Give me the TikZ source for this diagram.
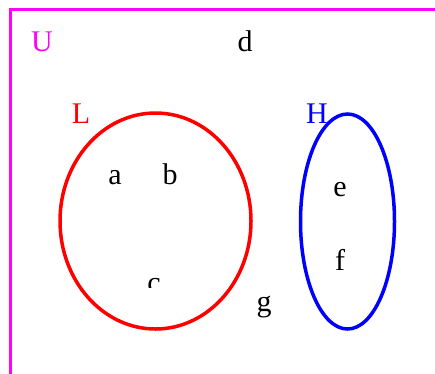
\documentclass[tikz,border=0pt]{standalone}
\usepackage{fontspec}
\setmainfont{Liberation Serif}
\usetikzlibrary{shapes.geometric}
\definecolor{umag}{RGB}{255,0,255}
\definecolor{lred}{RGB}{255,0,0}
\definecolor{hblue}{RGB}{0,0,255}
\begin{document}
\begin{tikzpicture}[x=1pt,y=-1pt,
  lbl/.style={font=\fontsize{30}{30}\selectfont, anchor=base, inner sep=0pt},
  setline/.style={line width=3.5pt, draw, ellipse, inner sep=0pt}]
\useasboundingbox (0,0) rectangle (435,373);
\clip (0,0) rectangle (435,373);
\draw[umag, line width=3pt] (10.5,700) -- (10.5,9.7) -- (700,9.7);
\node[setline, lred, minimum width=191pt, minimum height=216pt] (Lset) at (155.5,221) {};
\node[setline, hblue, minimum width=94pt, minimum height=215pt] (Hset) at (347.5,221.5) {};
\node[lbl, umag] (U) at (42,51) {U};
\node[lbl] (d) at (245,51) {d};
\node[lbl, lred] (L) at (81,123) {L};
\node[lbl, hblue] (H) at (317,123) {H};
\node[lbl] (a) at (115,184) {a};
\node[lbl] (b) at (170,184) {b};
\begin{scope}
\clip (0,0) rectangle (435,287);
\node[lbl] (c) at (154,292) {c};
\end{scope}
\node[lbl] (g) at (264,311) {g};
\node[lbl] (e) at (340,196) {e};
\node[lbl] (f) at (340,270) {f};
\end{tikzpicture}
\end{document}
